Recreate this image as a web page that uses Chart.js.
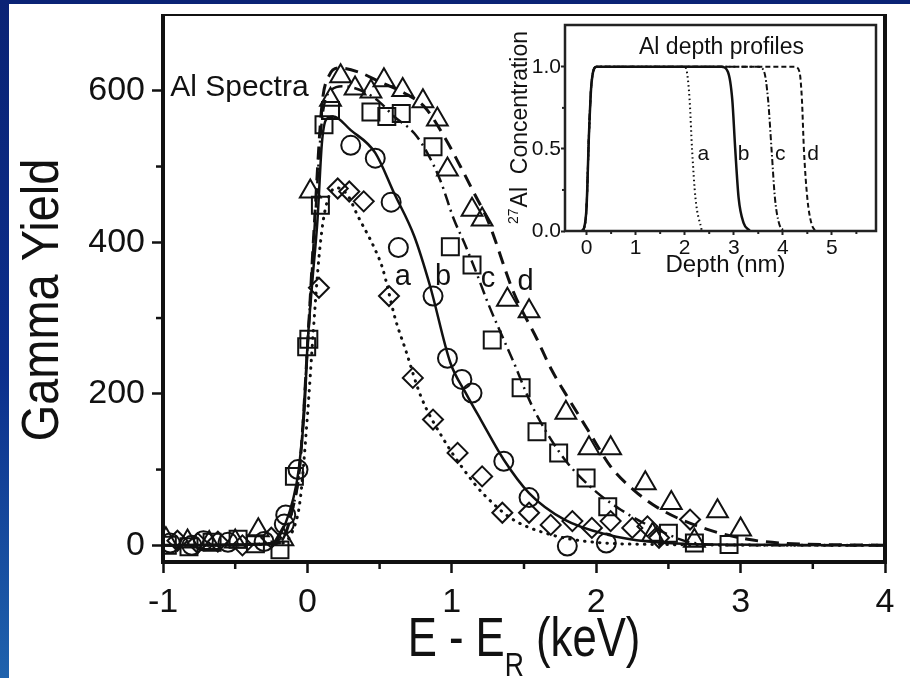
<!DOCTYPE html>
<html>
<head>
<meta charset="utf-8">
<script src="https://cdn.jsdelivr.net/npm/chart.js@4.4.0/dist/chart.umd.min.js"></script>
<style>
  html, body { margin: 0; padding: 0; }
  body {
    width: 910px; height: 678px; position: relative; overflow: hidden;
    background: linear-gradient(180deg, #0a2375 0%, #0c2f8c 55%, #1f62ad 100%);
  }
  #paper { position: absolute; left: 9px; top: 4px; right: 0; bottom: 0; background: #fff; }
  #mainChart { position: absolute; left: 0; top: 0; }
  #insetChart { position: absolute; left: 470px; top: 15px; }
</style>
</head>
<body>
<div id="paper"></div>
<canvas id="mainChart" width="910" height="678"></canvas>
<canvas id="insetChart" width="420" height="270"></canvas>
<script>
const FONT = "'Liberation Sans', Arial, Helvetica, sans-serif";
const INK = '#111';

// ---- main plot: axes
const xTickValues = [-1, 0, 1, 2, 3, 4];
const xTickLabels = ['-1', '0', '1', '2', '3', '4'];
const xMinorTicks = [-0.5, 0.5, 1.5, 2.5, 3.5];
const yTickValues = [0, 200, 400, 600];
const yTickLabels = ['0', '200', '400', '600'];
const yMinorTicks = [100, 300, 500];

// ---- main plot: measured spectra (a = diamonds, b = circles, c = squares, d = triangles)
const diamondX = [-0.90, -0.76, -0.62, -0.45, -0.25, 0.08, 0.21, 0.29, 0.39, 0.565, 0.73, 0.87, 1.04, 1.21, 1.35, 1.535, 1.685, 1.835, 1.97, 2.10, 2.25, 2.355, 2.435, 2.65];
const diamondY = [6, 3, 5, 0, 10, 340, 471, 467, 454, 329, 221, 166, 122, 91, 43, 43, 27, 32, 23, 32, 23, 25, 10, 34];

const circleX = [-0.95, -0.80, -0.72, -0.55, -0.30, -0.16, -0.15, -0.065, 0.30, 0.47, 0.58, 0.63, 0.87, 0.97, 1.07, 1.14, 1.36, 1.535, 1.80, 2.07];
const circleY = [3, 0, 6, 4, 5, 28, 40, 100, 528, 511, 453, 393, 329, 247, 219, 201, 111, 63, -1, 3];

const squareX = [-0.97, -0.82, -0.66, -0.48, -0.36, -0.19, -0.09, -0.005, 0.01, 0.09, 0.115, 0.16, 0.44, 0.55, 0.65, 0.87, 0.99, 1.14, 1.28, 1.48, 1.59, 1.74, 1.93, 2.08, 2.50, 2.68, 2.92];
const squareY = [0, -2, 4, 8, 2, -6, 91, 262, 272, 449, 555, 574, 572, 566, 570, 526, 394, 370, 271, 208, 150, 122, 89, 51, 16, 3, 1];

const triangleX = [-0.98, -0.83, -0.68, -0.50, -0.34, -0.17, 0.02, 0.16, 0.23, 0.33, 0.44, 0.53, 0.66, 0.80, 0.90, 0.97, 1.14, 1.21, 1.385, 1.535, 1.79, 1.95, 2.10, 2.34, 2.39, 2.52, 2.68, 2.84, 3.0];
const triangleY = [8, 5, 3, 5, 20, 8, 467, 588, 619, 603, 599, 614, 601, 586, 562, 496, 443, 430, 324, 309, 175, 128, 128, 82, 14, 56, 6, 45, 21];

// ---- main plot: simulated curves
const fitAX = [-1, -0.2, -0.1, -0.05, 0, 0.04, 0.08, 0.12, 0.2, 0.28, 0.346, 0.46, 0.52, 0.61, 0.68, 0.785, 0.946, 1.154, 1.223, 1.408, 1.616, 1.94, 2.5, 4];
const fitAY = [0, 2, 20, 60, 170, 280, 380, 440, 472, 462, 436, 394, 366, 298, 258, 197, 139, 82, 67, 36, 18, 5, 1, 0];

const fitBX = [-1, -0.3, -0.23, -0.15, -0.1, -0.06, -0.02, 0, 0.035, 0.07, 0.1, 0.13, 0.18, 0.3, 0.47, 0.6, 0.74, 0.85, 0.99, 1.1, 1.2, 1.36, 1.535, 1.78, 2.08, 2.36, 2.8, 4];
const fitBY = [0, 1, 3, 30, 60, 100, 180, 262, 350, 430, 530, 562, 566, 548, 518, 465, 408, 342, 241, 200, 166, 113, 69, 34, 14, 5, 1, 0];

const fitCX = [-1, -0.2, -0.1, -0.05, 0, 0.05, 0.1, 0.15, 0.25, 0.4, 0.5, 0.6, 0.74, 0.83, 0.92, 1.015, 1.085, 1.18, 1.25, 1.34, 1.43, 1.546, 1.66, 1.8, 1.985, 2.17, 2.42, 2.68, 3, 4];
const fitCY = [0, 3, 50, 110, 260, 420, 560, 598, 606, 598, 585, 566, 544, 518, 482, 430, 400, 355, 320, 280, 241, 188, 148, 109, 73, 47, 21, 3, 0, 0];

const fitDX = [-1, -0.2, -0.1, -0.05, 0, 0.05, 0.1, 0.15, 0.22, 0.35, 0.5, 0.67, 0.81, 0.946, 1.06, 1.154, 1.247, 1.43, 1.593, 1.69, 1.82, 1.95, 2.1, 2.26, 2.45, 2.77, 3.05, 3.28, 4];
const fitDY = [0, 3, 50, 110, 260, 430, 580, 620, 630, 625, 612, 597, 579, 540, 500, 465, 430, 333, 271, 232, 190, 150, 104, 73, 47, 21, 8, 3, 0];

// ---- main plot: annotations (data coordinates)
const spectraText = 'Al Spectra';
const spectraAt = [-0.95, 604];
const curveLetters = ['a', 'b', 'c', 'd'];
const letterX = [0.66, 0.94, 1.25, 1.51];
const letterY = [354, 354, 352, 347];

// ---- inset: depth profiles
const depthTickValues = [0, 1, 2, 3, 4, 5];
const depthTickLabels = ['0', '1', '2', '3', '4', '5'];
const depthMinorTicks = [0.5, 1.5, 2.5, 3.5, 4.5, 5.5];
const concTickValues = [0, 0.5, 1.0];
const concTickLabels = ['0.0', '0.5', '1.0'];
const concMinorTicks = [0.25, 0.75];

const profAX = [-0.1, -0.05, 0.0, 0.05, 0.1, 0.2, 2.0, 2.05, 2.1, 2.15, 2.22, 2.35];
const profAY = [0, 0.02, 0.15, 0.6, 0.9, 1.0, 1.0, 0.96, 0.8, 0.5, 0.2, 0];
const profBX = [-0.1, -0.05, 0.0, 0.05, 0.1, 0.2, 2.75, 2.88, 2.97, 3.03, 3.1, 3.2, 3.33];
const profBY = [0, 0.02, 0.15, 0.6, 0.9, 1.0, 1.0, 0.97, 0.8, 0.5, 0.2, 0.05, 0];
const profCX = [-0.1, -0.05, 0.0, 0.05, 0.1, 0.2, 3.5, 3.62, 3.7, 3.77, 3.84, 3.92, 4.02];
const profCY = [0, 0.02, 0.15, 0.6, 0.9, 1.0, 1.0, 0.97, 0.8, 0.5, 0.2, 0.05, 0];
const profDX = [-0.1, -0.05, 0.0, 0.05, 0.1, 0.2, 4.25, 4.34, 4.39, 4.43, 4.5, 4.58, 4.66];
const profDY = [0, 0.02, 0.15, 0.6, 0.9, 1.0, 1.0, 0.97, 0.8, 0.5, 0.2, 0.05, 0];

const insetTitle = 'Al depth profiles';
const insetTitleAt = [2.75, 1.12];
const depthLetterX = [2.38, 3.2, 3.95, 4.62];
const depthLetterY = 0.47;

// ---------------------------------------------------------------
function pts(xs, ys) {
    return xs.map((x, i) => ({ x: x, y: ys[i] }));
}

function markerSet(label, xs, ys, style, radius) {
    return {
        label: label,
        data: pts(xs, ys),
        showLine: false,
        pointStyle: style,
        pointRadius: radius,
        pointBorderWidth: 2,
        pointBorderColor: INK,
        pointBackgroundColor: 'rgba(0,0,0,0)'
    };
}

function curveSet(label, xs, ys, dash, width, cap) {
    return {
        label: label,
        data: pts(xs, ys),
        showLine: true,
        borderColor: INK,
        borderWidth: width,
        borderDash: dash,
        borderCapStyle: cap || 'butt',
        pointRadius: 0,
        fill: false,
        cubicInterpolationMode: 'monotone'
    };
}

function line(ctx, x1, y1, x2, y2, w) {
    ctx.lineWidth = w;
    ctx.beginPath();
    ctx.moveTo(x1, y1);
    ctx.lineTo(x2, y2);
    ctx.stroke();
}

// keep the plot box where the reference has it
function noScalePadding(s) {
    s.paddingTop = 0;
    s.paddingBottom = 0;
    s.paddingLeft = 0;
    s.paddingRight = 0;
}

// frame, minor ticks, titles and labels of the main plot
const mainDecor = {
    id: 'mainDecor',
    afterDraw(chart) {
        const { ctx, chartArea: a, scales: { x, y } } = chart;
        ctx.save();
        ctx.strokeStyle = INK;
        ctx.fillStyle = INK;
        line(ctx, a.left, a.top - 1, a.left, a.bottom + 2, 4);
        line(ctx, a.left - 2, a.bottom, a.right + 2, a.bottom, 4);
        line(ctx, a.right, a.top - 1, a.right, a.bottom + 2, 4);
        line(ctx, a.left, a.top, a.right, a.top, 2);

        xMinorTicks.forEach(v => {
            const px = x.getPixelForValue(v);
            line(ctx, px, a.bottom, px, a.bottom + 7, 2.5);
        });
        yMinorTicks.forEach(v => {
            const py = y.getPixelForValue(v);
            line(ctx, a.left, py, a.left - 7, py, 2.5);
        });

        // x title with subscript R, slightly condensed
        ctx.save();
        const cx = (a.left + a.right) / 2;
        ctx.translate(cx, 656);
        ctx.scale(0.78, 1);
        ctx.textBaseline = 'alphabetic';
        ctx.textAlign = 'left';
        const big = '56px ' + FONT, small = '34px ' + FONT;
        ctx.font = big;
        const w1 = ctx.measureText('E - E').width;
        const w3 = ctx.measureText(' (keV)').width;
        ctx.font = small;
        const w2 = ctx.measureText('R').width;
        const sx = -(w1 + w2 + w3) / 2;
        ctx.font = big;
        ctx.fillText('E - E', sx, 0);
        ctx.font = small;
        ctx.fillText('R', sx + w1, 20);
        ctx.font = big;
        ctx.fillText(' (keV)', sx + w1 + w2, 0);
        ctx.restore();

        // y title
        ctx.save();
        ctx.translate(58, 300);
        ctx.rotate(-Math.PI / 2);
        ctx.scale(0.92, 1);
        ctx.font = '51px ' + FONT;
        ctx.textAlign = 'center';
        ctx.textBaseline = 'alphabetic';
        ctx.fillText('Gamma Yield', 0, 0);
        ctx.restore();

        // in-plot labels
        ctx.font = '30px ' + FONT;
        ctx.textAlign = 'left';
        ctx.textBaseline = 'middle';
        ctx.fillText(spectraText, x.getPixelForValue(spectraAt[0]), y.getPixelForValue(spectraAt[1]));
        ctx.font = '29px ' + FONT;
        ctx.textAlign = 'center';
        curveLetters.forEach((t, i) => {
            ctx.fillText(t, x.getPixelForValue(letterX[i]), y.getPixelForValue(letterY[i]));
        });
        ctx.restore();
    }
};

new Chart(document.getElementById('mainChart'), {
    type: 'scatter',
    data: {
        datasets: [
            markerSet('a', diamondX, diamondY, 'rectRot', 10),
            markerSet('b', circleX, circleY, 'circle', 9.5),
            markerSet('c', squareX, squareY, 'rect', 12),
            markerSet('d', triangleX, triangleY, 'triangle', 12),
            curveSet('fit a', fitAX, fitAY, [0.5, 7], 3, 'round'),
            curveSet('fit b', fitBX, fitBY, [], 2.5),
            curveSet('fit c', fitCX, fitCY, [12, 5, 2, 5], 2.5),
            curveSet('fit d', fitDX, fitDY, [13, 8], 3)
        ]
    },
    options: {
        responsive: false,
        animation: false,
        layout: { padding: { left: 0, right: 25, top: 15, bottom: 0 } },
        plugins: { legend: { display: false }, tooltip: { enabled: false } },
        scales: {
            x: {
                type: 'linear', min: -1, max: 4,
                afterBuildTicks: s => { s.ticks = xTickValues.map(v => ({ value: v })); },
                afterFit: s => { s.height = 116; noScalePadding(s); },
                border: { display: false },
                grid: { drawOnChartArea: false, drawTicks: true, tickLength: 11, tickWidth: 2.5, tickColor: INK },
                ticks: {
                    color: INK, padding: 9, maxRotation: 0, autoSkip: false,
                    font: { family: FONT, size: 34 },
                    callback: (v, i) => xTickLabels[i]
                }
            },
            y: {
                type: 'linear', min: -22, max: 700,
                afterBuildTicks: s => { s.ticks = yTickValues.map(v => ({ value: v })); },
                afterFit: s => { s.width = 163; noScalePadding(s); },
                border: { display: false },
                grid: { drawOnChartArea: false, drawTicks: true, tickLength: 11, tickWidth: 2.5, tickColor: INK },
                ticks: {
                    color: INK, padding: 7, autoSkip: false,
                    font: { family: FONT, size: 34 },
                    callback: (v, i) => yTickLabels[i]
                }
            }
        }
    },
    plugins: [mainDecor]
});

// ---------------------------------------------------------------
const insetDecor = {
    id: 'insetDecor',
    beforeDraw(chart) {
        const { ctx, chartArea: a } = chart;
        ctx.save();
        ctx.fillStyle = '#fff';
        ctx.fillRect(a.left, a.top, a.right - a.left, a.bottom - a.top);
        ctx.restore();
    },
    afterDraw(chart) {
        const { ctx, chartArea: a, scales: { x, y } } = chart;
        ctx.save();
        ctx.strokeStyle = '#222';
        ctx.fillStyle = INK;
        ctx.lineWidth = 2.5;
        ctx.strokeRect(a.left, a.top, a.right - a.left, a.bottom - a.top);

        depthMinorTicks.forEach(v => {
            const px = x.getPixelForValue(v);
            line(ctx, px, a.bottom, px, a.bottom + 3, 2);
        });
        concMinorTicks.forEach(v => {
            const py = y.getPixelForValue(v);
            line(ctx, a.left, py, a.left - 3, py, 2);
        });

        ctx.font = '23px ' + FONT;
        ctx.textAlign = 'center';
        ctx.textBaseline = 'middle';
        ctx.fillText(insetTitle, x.getPixelForValue(insetTitleAt[0]), y.getPixelForValue(insetTitleAt[1]));

        ctx.font = '21px ' + FONT;
        curveLetters.forEach((t, i) => {
            ctx.fillText(t, x.getPixelForValue(depthLetterX[i]), y.getPixelForValue(depthLetterY));
        });

        // x title
        ctx.font = '24px ' + FONT;
        ctx.textBaseline = 'alphabetic';
        ctx.fillText('Depth (nm)', (a.left + a.right) / 2 + 5, 257);

        // y title with superscript 27
        ctx.save();
        ctx.translate(57, (a.top + a.bottom) / 2);
        ctx.rotate(-Math.PI / 2);
        ctx.textAlign = 'left';
        ctx.textBaseline = 'alphabetic';
        const mainFont = '23px ' + FONT, supFont = '14px ' + FONT;
        ctx.font = mainFont;
        const wMain = ctx.measureText('Al  Concentration').width;
        ctx.font = supFont;
        const wSup = ctx.measureText('27').width;
        const sx = -(wMain + wSup) / 2;
        ctx.fillText('27', sx, -9);
        ctx.font = mainFont;
        ctx.fillText('Al  Concentration', sx + wSup + 1, 0);
        ctx.restore();

        ctx.restore();
    }
};

new Chart(document.getElementById('insetChart'), {
    type: 'scatter',
    data: {
        datasets: [
            curveSet('a', profAX, profAY, [1.5, 3], 2),
            curveSet('b', profBX, profBY, [], 2.5),
            curveSet('c', profCX, profCY, [6, 2.5, 1.5, 2.5], 2),
            curveSet('d', profDX, profDY, [5, 3], 2)
        ]
    },
    options: {
        responsive: false,
        animation: false,
        layout: { padding: { left: 0, right: 14, top: 10, bottom: 0 } },
        plugins: { legend: { display: false }, tooltip: { enabled: false } },
        scales: {
            x: {
                type: 'linear', min: -0.44, max: 5.9,
                afterBuildTicks: s => { s.ticks = depthTickValues.map(v => ({ value: v })); },
                afterFit: s => { s.height = 54; noScalePadding(s); },
                border: { display: false },
                grid: { drawOnChartArea: false, drawTicks: true, tickLength: 4, tickWidth: 2, tickColor: '#222' },
                ticks: {
                    color: INK, padding: 1, maxRotation: 0, autoSkip: false,
                    font: { family: FONT, size: 21 },
                    callback: (v, i) => depthTickLabels[i]
                }
            },
            y: {
                type: 'linear', min: 0, max: 1.255,
                afterBuildTicks: s => { s.ticks = concTickValues.map(v => ({ value: v })); },
                afterFit: s => { s.width = 95; noScalePadding(s); },
                border: { display: false },
                grid: { drawOnChartArea: false, drawTicks: true, tickLength: 4, tickWidth: 2, tickColor: '#222' },
                ticks: {
                    color: INK, padding: 0, autoSkip: false,
                    font: { family: FONT, size: 21 },
                    callback: (v, i) => concTickLabels[i]
                }
            }
        }
    },
    plugins: [insetDecor]
});
</script>
</body>
</html>
